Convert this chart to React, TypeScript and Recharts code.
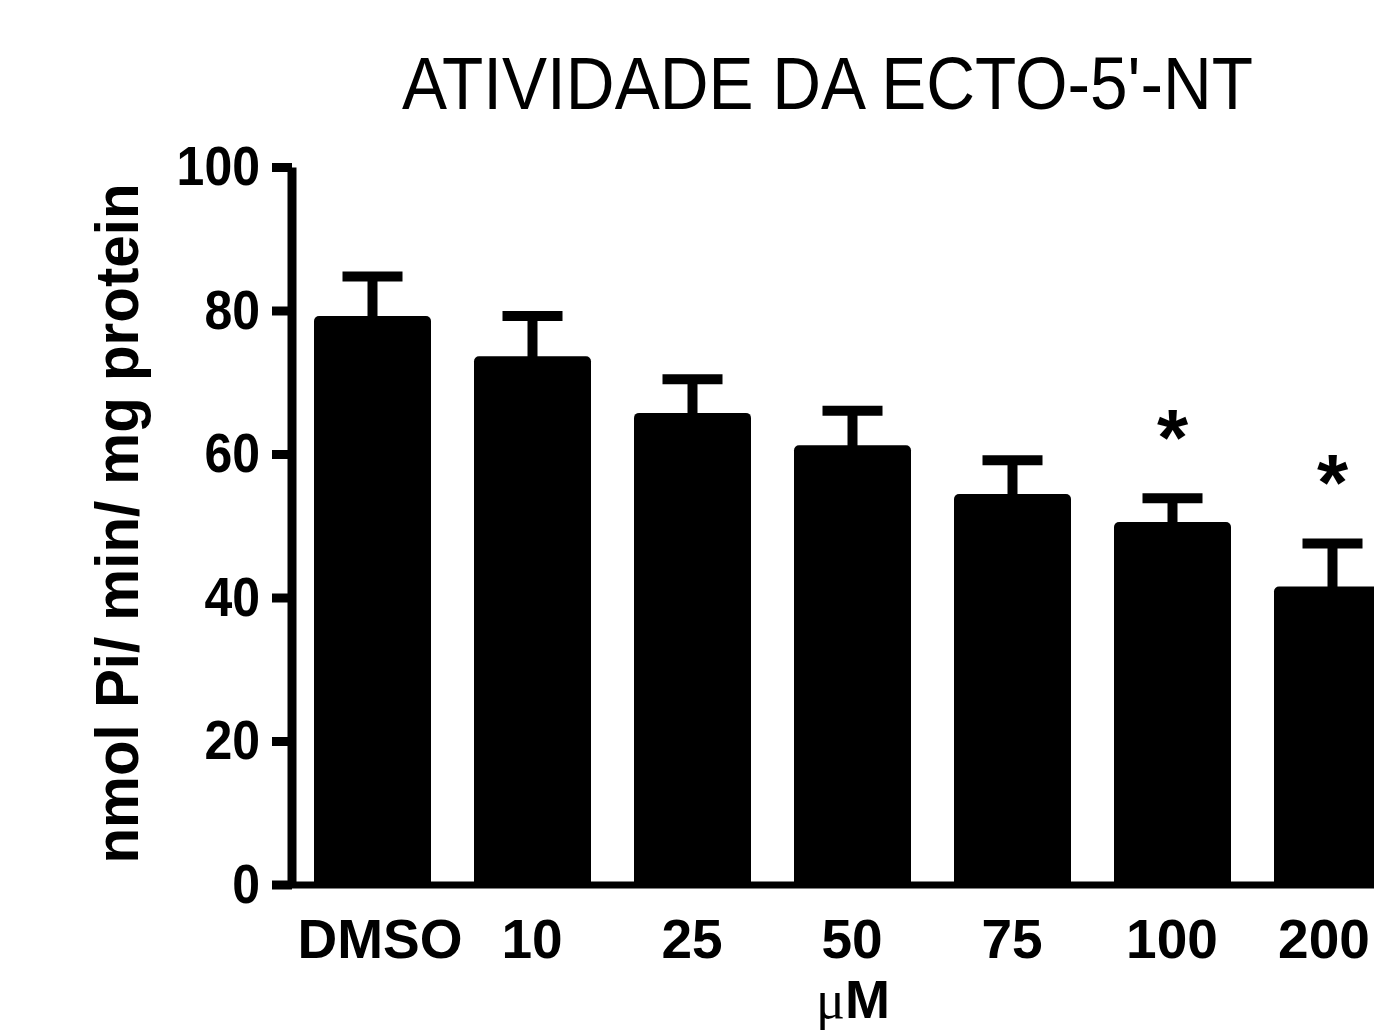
import React from "react";
import { BarChart, Bar, XAxis, YAxis, ErrorBar, LabelList } from "recharts";

// valores
const categorias = ["DMSO", "10", "25", "50", "75", "100", "200"];
const medias = [79.3, 73.7, 65.8, 61.3, 54.5, 50.6, 41.6];
const erros = [5.5, 5.6, 4.7, 4.8, 4.7, 3.3, 6.0];
const significancia = ["", "", "", "", "", "*", "*"];
const yTicks = [0, 20, 40, 60, 80, 100];

// limite inferior levemente dentro da barra para esconder o cap de baixo
const ERRO_INF = 1;

const data = categorias.map((c, i) => ({
  dose: c,
  valor: medias[i],
  erro: [ERRO_INF, erros[i]],
}));

const FONTE = "'Liberation Sans', Arial, Helvetica, sans-serif";

const YTick = (props: any) => {
  const { x, y, payload } = props;
  return (
    <g transform={`translate(${x},${y}) scale(1,1.12)`}>
      <text x={0} y={0} dy={16} textAnchor="end" fontSize={50} fontWeight="bold" fill="#000">
        {payload.value}
      </text>
    </g>
  );
};

const XTick = (props: any) => {
  const { x, y, payload, index } = props;
  // no original o primeiro e o último rótulo ficam um pouco para dentro
  const dx = index === 0 ? 8 : index === categorias.length - 1 ? -8 : 0;
  return (
    <text x={x + dx} y={y} dy={73} textAnchor="middle" fontSize={55} fontWeight="bold" fill="#000">
      {payload.value}
    </text>
  );
};

const Asterisco = (props: any) => {
  const { x, y, width, height, value, index } = props;
  const s = significancia[index];
  if (!s) return null;
  const ppu = height / value;
  const topoErro = y - erros[index] * ppu;
  return (
    <text x={x + width / 2} y={topoErro - 33} textAnchor="middle" fontSize={80} fontWeight="bold" fill="#000">
      {s}
    </text>
  );
};

export default function App() {
  return (
    <div
      style={{
        position: "fixed",
        left: 8,
        top: 8,
        width: 1366,
        height: 1027,
        overflow: "hidden",
        fontFamily: FONTE,
      }}
    >
      <BarChart
        width={1420}
        height={1030}
        data={data}
        margin={{ top: 159.5, right: 16, left: 134, bottom: 53 }}
      >
        <text
          x={819.5}
          y={101}
          textAnchor="middle"
          fontSize={75}
          textLength={851}
          lengthAdjust="spacingAndGlyphs"
          fill="#000"
          style={{ fontFamily: FONTE }}
        >
          ATIVIDADE DA ECTO-5'-NT
        </text>
        <text
          transform="translate(130,515.5) rotate(-90)"
          textAnchor="middle"
          fontSize={62}
          fontWeight="bold"
          textLength={680}
          lengthAdjust="spacingAndGlyphs"
          fill="#000"
          style={{ fontFamily: FONTE }}
        >
          nmol Pi/ min/ mg protein
        </text>
        <text x={845} y={1010} textAnchor="middle" fontSize={54} fontWeight="bold" fill="#000">
          <tspan style={{ fontFamily: "'Liberation Serif', 'Times New Roman', serif" }} fontWeight="normal">
            μ
          </tspan>
          <tspan style={{ fontFamily: FONTE }}>M</tspan>
        </text>
        <XAxis
          dataKey="dose"
          height={100}
          axisLine={{ stroke: "#000", strokeWidth: 7 }}
          tickLine={false}
          tickSize={0}
          tickMargin={0}
          interval={0}
          tick={<XTick />}
        />
        <YAxis
          width={150}
          domain={[0, 100]}
          ticks={yTicks}
          interval={0}
          axisLine={{ stroke: "#000", strokeWidth: 9 }}
          tickLine={{ stroke: "#000", strokeWidth: 9 }}
          tickSize={20}
          tickMargin={12}
          tick={<YTick />}
        />
        <Bar dataKey="valor" fill="#000" barSize={117} radius={[5, 5, 0, 0]} isAnimationActive={false}>
          <ErrorBar dataKey="erro" width={30} stroke="#000" strokeWidth={10} direction="y" />
          <LabelList dataKey="valor" content={<Asterisco />} />
        </Bar>
      </BarChart>
    </div>
  );
}
